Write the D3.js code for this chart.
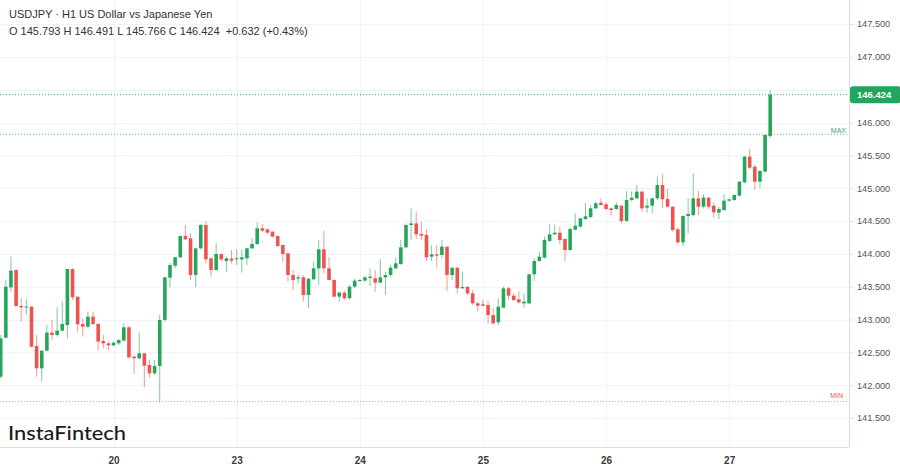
<!DOCTYPE html>
<html><head><meta charset="utf-8">
<script src="https://cdn.jsdelivr.net/npm/d3@7"></script>
<style>html,body{margin:0;padding:0;background:#fff;overflow:hidden}</style>
</head><body><svg id="c" width="900" height="468"></svg>
<script>
const opens = [142.130,142.724,143.490,143.754,143.206,143.185,143.196,142.597,142.257,142.526,142.800,142.764,142.830,142.916,143.769,143.348,142.932,142.891,143.043,142.932,142.673,142.637,142.607,142.637,142.678,142.881,142.434,142.409,142.485,142.307,142.180,142.292,142.993,143.637,143.820,143.947,144.272,144.236,143.678,144.084,144.439,143.932,143.754,143.998,143.891,143.927,143.916,143.916,143.932,144.084,144.150,144.389,144.373,144.338,144.272,144.135,144.008,143.678,143.622,143.642,143.373,143.612,143.779,144.069,143.779,143.602,143.348,143.409,143.323,143.500,143.586,143.592,143.632,143.627,143.561,143.642,143.678,143.779,143.845,144.099,144.439,144.464,144.302,144.287,143.957,143.992,143.982,144.109,143.678,143.789,143.475,143.495,143.398,143.246,143.231,143.221,143.068,142.957,143.180,143.475,143.363,143.307,143.246,143.246,143.688,143.891,143.942,144.195,144.297,144.322,144.226,144.058,144.368,144.414,144.530,144.561,144.693,144.779,144.754,144.693,144.683,144.733,144.500,144.820,144.845,144.947,144.703,144.733,144.845,145.048,144.835,144.718,144.373,144.175,144.576,144.591,144.845,144.718,144.855,144.733,144.627,144.667,144.810,144.820,144.886,145.089,145.480,145.327,145.099,145.251,145.793];
const highs = [142.764,143.602,143.957,143.760,143.323,143.307,143.200,142.764,142.530,142.916,142.993,143.185,143.272,143.770,143.779,143.350,143.018,143.119,143.119,142.940,142.764,142.663,142.663,142.698,142.942,142.901,142.459,142.800,142.490,142.383,142.383,143.069,143.652,143.856,143.950,144.275,144.439,144.312,144.090,144.455,144.500,143.940,144.160,144.000,143.957,144.059,144.069,144.059,144.090,144.236,144.475,144.455,144.389,144.340,144.275,144.140,144.010,143.754,143.678,143.678,143.625,143.881,144.211,144.353,143.947,143.610,143.424,143.439,143.526,143.627,143.612,143.663,143.779,143.754,143.916,143.729,143.830,143.942,144.211,144.464,144.693,144.642,144.490,144.373,144.134,144.134,144.211,144.110,143.790,143.790,143.728,143.510,143.449,143.272,143.297,143.282,143.180,143.322,143.500,143.500,143.398,143.424,143.398,143.703,143.931,144.033,144.261,144.449,144.449,144.414,144.230,144.398,144.617,144.551,144.769,144.744,144.794,144.845,144.784,144.703,144.784,144.744,144.957,144.947,145.048,144.957,144.845,144.855,145.175,145.211,144.987,144.720,144.398,144.591,144.845,145.226,144.957,144.906,144.860,144.784,144.718,144.906,144.845,144.906,145.109,145.490,145.596,145.363,145.277,145.820,146.491];
const lows = [142.104,142.713,143.424,143.196,142.967,143.069,142.580,142.130,142.054,142.510,142.688,142.739,142.815,142.713,143.297,142.815,142.739,142.866,142.916,142.536,142.561,142.536,142.586,142.612,142.663,142.409,142.170,142.394,141.967,142.119,142.155,141.750,142.967,143.490,143.779,143.932,144.211,143.602,143.490,144.069,143.856,143.652,143.744,143.881,143.729,143.856,143.830,143.713,143.830,144.069,144.135,144.328,144.302,144.251,144.099,143.881,143.576,143.449,143.551,143.272,143.170,143.602,143.526,143.703,143.592,143.338,143.272,143.297,143.307,143.475,143.576,143.576,143.510,143.424,143.551,143.373,143.652,143.769,143.830,144.084,144.211,144.226,144.211,143.891,143.891,143.789,143.931,143.434,143.601,143.398,143.464,143.373,143.221,143.119,143.195,142.942,142.926,142.916,143.170,143.297,143.272,143.246,143.180,143.231,143.586,143.881,143.931,144.185,144.287,144.145,143.881,144.048,144.358,144.398,144.515,144.541,144.683,144.733,144.667,144.581,144.667,144.464,144.490,144.794,144.835,144.642,144.632,144.617,144.820,144.703,144.703,144.337,144.145,144.119,144.312,144.566,144.591,144.693,144.683,144.551,144.530,144.652,144.794,144.805,144.870,145.074,145.292,144.972,144.997,145.241,145.766];
const closes = [142.713,143.500,143.744,143.206,143.185,143.196,142.586,142.257,142.526,142.800,142.764,142.830,142.932,143.769,143.338,142.927,142.891,143.043,142.932,142.663,142.637,142.607,142.647,142.688,142.881,142.424,142.409,142.485,142.297,142.180,142.292,142.993,143.642,143.830,143.947,144.272,144.221,143.678,144.084,144.439,143.916,143.754,143.998,143.916,143.932,143.896,143.932,143.947,144.084,144.150,144.389,144.353,144.323,144.262,144.119,143.998,143.678,143.602,143.642,143.373,143.622,143.779,144.069,143.779,143.602,143.348,143.409,143.323,143.500,143.592,143.602,143.642,143.652,143.561,143.642,143.678,143.789,143.855,144.099,144.439,144.464,144.297,144.277,143.947,143.992,143.972,144.109,143.678,143.789,143.475,143.495,143.398,143.246,143.211,143.211,143.068,142.942,143.195,143.475,143.363,143.297,143.261,143.272,143.688,143.891,143.957,144.211,144.297,144.322,144.211,144.058,144.378,144.429,144.541,144.571,144.693,144.769,144.744,144.683,144.667,144.744,144.500,144.820,144.855,144.947,144.693,144.733,144.845,145.048,144.830,144.718,144.363,144.175,144.576,144.607,144.845,144.718,144.855,144.718,144.632,144.683,144.810,144.830,144.896,145.099,145.480,145.312,145.099,145.261,145.810,146.424];
const dayLabels = ["20","23","24","25","26","27"];
const dayIndex = [22,46,70,94,118,142];
const gridTicks = [141.5,142,142.5,143,143.5,144,144.5,145,145.5,146,146.5,147,147.5];
const labelTicks = [141.5,142,142.5,143,143.5,144,144.5,145,145.5,146,147,147.5];
const lastPrice = 146.424;
const maxLevel = 145.82;
const minLevel = 141.75;
const titleLine = "USDJPY \u00B7 H1 US Dollar vs Japanese Yen";
const ohlcLine = "O 145.793 H 146.491 L 145.766 C 146.424  +0.632 (+0.43%)";

const UP = "#26a65b", DOWN = "#ef5350";
const plotW = 849, plotH = 447;
const svg = d3.select("#c");
const x = d3.scaleLinear().domain([0, 150]).range([0.7, 770.2]);
const y = d3.scaleLinear().domain([141.5, 147.5]).range([418, 24]);

svg.append("rect").attr("width", 900).attr("height", 468).attr("fill", "#fff");
svg.append("defs").append("clipPath").attr("id", "clip")
  .append("rect").attr("width", plotW).attr("height", plotH);

// grid
const grid = svg.append("g").attr("clip-path", "url(#clip)");
grid.selectAll("line.h").data(gridTicks).join("line")
  .attr("x1", 0).attr("x2", plotW)
  .attr("y1", d => Math.round(y(d)) + 0.5).attr("y2", d => Math.round(y(d)) + 0.5)
  .attr("stroke", "#f0f3fa");
grid.selectAll("line.v").data(dayIndex).join("line")
  .attr("x1", d => Math.round(x(d)) + 0.5).attr("x2", d => Math.round(x(d)) + 0.5)
  .attr("y1", 0).attr("y2", plotH)
  .attr("stroke", "#f0f3fa");

// reference lines
const refs = svg.append("g").attr("clip-path", "url(#clip)");
function dotted(v, color) {
  refs.append("line").attr("x1", 0).attr("x2", plotW)
    .attr("y1", y(v)).attr("y2", y(v))
    .attr("stroke", color).attr("stroke-width", 1).attr("stroke-dasharray", "1,2");
}
dotted(maxLevel, "#5cc08a");
dotted(minLevel, "#f29a98");
dotted(lastPrice, "#3aa86c");
refs.append("text").attr("x", 846).attr("y", y(maxLevel) - 1.5).attr("text-anchor", "end")
  .attr("font-family", "Liberation Sans, Arial, sans-serif").attr("font-size", 7).attr("fill", "#3aa86c").text("MAX");
refs.append("text").attr("x", 843).attr("y", y(minLevel) - 3.5).attr("text-anchor", "end")
  .attr("font-family", "Liberation Sans, Arial, sans-serif").attr("font-size", 7).attr("fill", "#ef5350").text("MIN");

// candles
const idx = d3.range(opens.length);
const cg = svg.append("g").attr("clip-path", "url(#clip)");
const bw = 3.6;
cg.selectAll("line.wick").data(idx).join("line")
  .attr("x1", i => x(i)).attr("x2", i => x(i))
  .attr("y1", i => y(highs[i])).attr("y2", i => y(lows[i]))
  .attr("stroke", i => closes[i] >= opens[i] ? UP : DOWN)
  .attr("stroke-opacity", 0.6).attr("stroke-width", 1);
cg.selectAll("rect.body").data(idx).join("rect")
  .attr("x", i => x(i) - bw / 2).attr("width", bw)
  .attr("y", i => y(Math.max(opens[i], closes[i])))
  .attr("height", i => Math.max(1, Math.abs(y(opens[i]) - y(closes[i]))))
  .attr("fill", i => closes[i] >= opens[i] ? UP : DOWN);

// axes
const axisColor = "#d6dce8";
svg.append("line").attr("x1", plotW + 0.5).attr("x2", plotW + 0.5).attr("y1", 0).attr("y2", plotH)
  .attr("stroke", axisColor);
svg.append("line").attr("x1", 0).attr("x2", plotW + 0.5).attr("y1", plotH + 0.5).attr("y2", plotH + 0.5)
  .attr("stroke", axisColor);

const yAxis = d3.axisRight(y).tickValues(labelTicks).tickFormat(d3.format(".3f")).tickSize(4).tickPadding(3);
const ya = svg.append("g").attr("transform", `translate(${plotW + 1},0)`).call(yAxis);
ya.select(".domain").remove();
ya.selectAll(".tick line").attr("stroke", "#e3e6ee");
ya.selectAll(".tick text").attr("font-family", "Liberation Sans, Arial, sans-serif")
  .attr("font-size", 9.2).attr("fill", "#555");

const xAxis = d3.axisBottom(x).tickValues(dayIndex).tickFormat((d, i) => dayLabels[i]).tickSize(0).tickPadding(10);
const xa = svg.append("g").attr("transform", `translate(0,${plotH})`).call(xAxis);
xa.select(".domain").remove();
xa.selectAll(".tick text").attr("font-family", "Liberation Sans, Arial, sans-serif")
  .attr("font-size", 10).attr("font-weight", "bold").attr("fill", "#3a3a3a");

// last price label
const lp = svg.append("g");
lp.append("rect").attr("x", plotW + 1).attr("y", y(lastPrice) - 8.5).attr("width", 51).attr("height", 17)
  .attr("rx", 3).attr("fill", "#22a65e");
lp.append("text").attr("x", plotW + 8).attr("y", y(lastPrice)).attr("dy", "0.35em")
  .attr("font-family", "Liberation Sans, Arial, sans-serif").attr("font-size", 9.5).attr("font-weight", "bold")
  .attr("fill", "#fff").text(lastPrice.toFixed(3));

// header
svg.append("text").attr("x", 9).attr("y", 18).attr("font-family", "Liberation Sans, Arial, sans-serif")
  .attr("font-size", 11).attr("fill", "#333").text(titleLine);
svg.append("text").attr("x", 9).attr("y", 35).attr("font-family", "Liberation Sans, Arial, sans-serif")
  .attr("font-size", 11).attr("fill", "#333").attr("xml:space", "preserve").style("white-space", "pre").text(ohlcLine);

// logo
svg.append("text").attr("x", 8).attr("y", 440).attr("font-family", "Lato, Inter, sans-serif")
  .attr("font-size", 19.5).attr("font-weight", 500).attr("fill", "#1b1b1b")
  .attr("textLength", 118).attr("lengthAdjust", "spacingAndGlyphs").text("InstaFintech");
</script></body></html>
